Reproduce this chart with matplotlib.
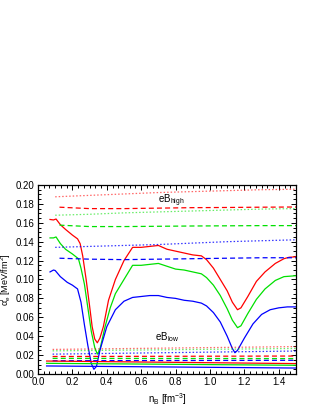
import matplotlib
matplotlib.use("Agg")
import matplotlib.pyplot as plt
from matplotlib.ticker import MultipleLocator

plt.rcParams['font.family'] = ['Liberation Sans', 'DejaVu Sans']
plt.rcParams['mathtext.fontset'] = 'custom'
plt.rcParams['mathtext.rm'] = 'Liberation Sans'
plt.rcParams['mathtext.it'] = 'Liberation Sans'

# solid curves
x_red = [0.07, 0.09, 0.105, 0.13, 0.16, 0.2, 0.23, 0.245, 0.26, 0.28, 0.30, 0.315,
         0.33, 0.345, 0.36, 0.38, 0.41, 0.45, 0.50, 0.55, 0.6, 0.65, 0.7, 0.75, 0.8,
         0.85, 0.9, 0.95, 0.98, 1.02, 1.06, 1.1, 1.13, 1.16, 1.18, 1.22, 1.27, 1.32,
         1.38, 1.43, 1.46, 1.5]
y_red = [0.1635, 0.163, 0.164, 0.158, 0.153, 0.147, 0.143, 0.138, 0.125, 0.100, 0.072,
         0.050, 0.037, 0.033, 0.038, 0.050, 0.078, 0.100, 0.120, 0.134, 0.134, 0.135,
         0.136, 0.132, 0.130, 0.128, 0.126, 0.125, 0.121, 0.112, 0.100, 0.088, 0.076,
         0.068, 0.070, 0.082, 0.098, 0.108, 0.117, 0.122, 0.1235, 0.124]

x_green = [0.07, 0.09, 0.105, 0.13, 0.16, 0.2, 0.235, 0.25, 0.27, 0.29, 0.31, 0.33,
           0.345, 0.36, 0.39, 0.42, 0.45, 0.5, 0.55, 0.6, 0.65, 0.7, 0.75, 0.8, 0.85,
           0.9, 0.95, 0.98, 1.02, 1.06, 1.1, 1.13, 1.16, 1.18, 1.22, 1.27, 1.32, 1.38,
           1.43, 1.5]
y_green = [0.144, 0.144, 0.145, 0.138, 0.132, 0.127, 0.122, 0.112, 0.095, 0.070, 0.045,
           0.028, 0.021, 0.026, 0.050, 0.070, 0.085, 0.100, 0.115, 0.115, 0.116, 0.117,
           0.114, 0.111, 0.110, 0.108, 0.106, 0.102, 0.094, 0.083, 0.069, 0.057, 0.049,
           0.051, 0.064, 0.079, 0.090, 0.099, 0.103, 0.104]

x_blue = [0.07, 0.09, 0.1, 0.13, 0.17, 0.2, 0.23, 0.25, 0.27, 0.29, 0.31, 0.325, 0.34,
          0.36, 0.4, 0.45, 0.5, 0.55, 0.6, 0.65, 0.7, 0.75, 0.8, 0.85, 0.9, 0.95, 0.98,
          1.02, 1.06, 1.1, 1.13, 1.145, 1.16, 1.2, 1.25, 1.3, 1.35, 1.4, 1.45, 1.5]
y_blue = [0.108, 0.110, 0.1095, 0.103, 0.097, 0.094, 0.090, 0.076, 0.052, 0.030, 0.011,
          0.005, 0.008, 0.025, 0.050, 0.068, 0.077, 0.081, 0.082, 0.083, 0.083, 0.081,
          0.080, 0.078, 0.077, 0.075, 0.072, 0.065, 0.055, 0.040, 0.027, 0.0225, 0.025,
          0.038, 0.053, 0.063, 0.068, 0.070, 0.071, 0.071]

# eB_high dotted / dashed
x_hi_dot = [0.1, 0.3, 0.5, 0.7, 0.9, 1.1, 1.3, 1.5]
hi_red_dot = [0.1875, 0.189, 0.1905, 0.192, 0.193, 0.194, 0.195, 0.1955]
hi_green_dot = [0.168, 0.169, 0.1705, 0.1715, 0.1725, 0.1735, 0.1745, 0.175]
hi_blue_dot = [0.134, 0.135, 0.136, 0.137, 0.1385, 0.140, 0.141, 0.142]
x_hi_dash = [0.125, 0.3, 0.5, 0.7, 0.9, 1.1, 1.3, 1.5]
hi_red_dash = [0.1765, 0.175, 0.175, 0.1755, 0.176, 0.1762, 0.1765, 0.1767]
hi_green_dash = [0.1575, 0.156, 0.156, 0.1563, 0.1566, 0.1568, 0.157, 0.157]
hi_blue_dash = [0.1225, 0.1215, 0.121, 0.1215, 0.122, 0.1225, 0.123, 0.123]

# eB_low
x_lo = [0.085, 1.5]
lo_red_dot = [0.026, 0.029]
lo_green_dot = [0.0245, 0.027]
lo_blue_dot = [0.021, 0.0243]
lo_red_dash = [0.0185, 0.019]
lo_green_dash = [0.0165, 0.0163]
lo_blue_dash = [0.014, 0.0145]
x_lo_sol = [0.05, 1.5]
lo_red = [0.0137, 0.011]
lo_green = [0.0113, 0.0092]
lo_blue = [0.0085, 0.0063]

RED, GREEN, BLUE = '#ff0000', '#00e000', '#0000ff'
dot = (0, (1.2, 1.6))
dash = (0, (4, 2.5))

fig = plt.figure(figsize=(3.15, 4.07), dpi=100)
ax = fig.add_axes([0.1206, 0.0811, 0.819, 0.4644])

lw = 0.9
ax.plot(x_red, y_red, color=RED, lw=lw)
ax.plot(x_green, y_green, color=GREEN, lw=lw)
ax.plot(x_blue, y_blue, color=BLUE, lw=lw)

ax.plot(x_hi_dot, hi_red_dot, color=RED, lw=lw, ls=dot, alpha=0.6)
ax.plot(x_hi_dot, hi_green_dot, color=GREEN, lw=lw, ls=dot, alpha=0.6)
ax.plot(x_hi_dot, hi_blue_dot, color=BLUE, lw=lw, ls=dot, alpha=0.8)
ax.plot(x_hi_dash, hi_red_dash, color=RED, lw=lw, ls=dash)
ax.plot(x_hi_dash, hi_green_dash, color=GREEN, lw=lw, ls=dash)
ax.plot(x_hi_dash, hi_blue_dash, color=BLUE, lw=lw, ls=dash)

ax.plot(x_lo, lo_red_dot, color=RED, lw=lw, ls=dot, alpha=0.6)
ax.plot(x_lo, lo_green_dot, color=GREEN, lw=lw, ls=dot, alpha=0.6)
ax.plot(x_lo, lo_blue_dot, color=BLUE, lw=lw, ls=dot, alpha=0.8)
ax.plot(x_lo, lo_red_dash, color=RED, lw=lw, ls=dash)
ax.plot(x_lo, lo_green_dash, color=GREEN, lw=lw, ls=dash)
ax.plot(x_lo, lo_blue_dash, color=BLUE, lw=lw, ls=dash)
ax.plot(x_lo_sol, lo_red, color=RED, lw=lw)
ax.plot(x_lo_sol, lo_green, color=GREEN, lw=lw)
ax.plot(x_lo_sol, lo_blue, color=BLUE, lw=lw)

ax.text(0.70, 0.1805, r'eB$_{\mathrm{high}}$', fontsize=7)
ax.text(0.68, 0.0355, r'eB$_{\mathrm{low}}$', fontsize=7)

ax.set_xlim(0.0, 1.5)
ax.set_ylim(0.0, 0.20)
ax.xaxis.set_major_locator(MultipleLocator(0.2))
ax.xaxis.set_minor_locator(MultipleLocator(0.2 / 6))
ax.yaxis.set_major_locator(MultipleLocator(0.02))
ax.yaxis.set_minor_locator(MultipleLocator(0.005))
ax.xaxis.set_major_formatter(matplotlib.ticker.FormatStrFormatter('%.1f'))
ax.yaxis.set_major_formatter(matplotlib.ticker.FormatStrFormatter('%.2f'))
ax.tick_params(which='both', direction='in', top=True, right=True,
               labelsize=7, width=0.7, pad=2.5)
ax.tick_params(which='major', length=3.5)
ax.tick_params(which='minor', length=2)
for s in ax.spines.values():
    s.set_linewidth(0.9)

ax.set_xlabel(r'n$_{\mathrm{B}}$ [fm$^{-3}$]', fontsize=7, labelpad=3)
ax.set_ylabel(r'$\alpha^{\mathrm{l}}_{\mathrm{e}}$ [MeV/fm$^{2}$]', fontsize=6.5)
ax.yaxis.set_label_coords(-0.095, 0.5)

fig.savefig('out.png', dpi=100)
